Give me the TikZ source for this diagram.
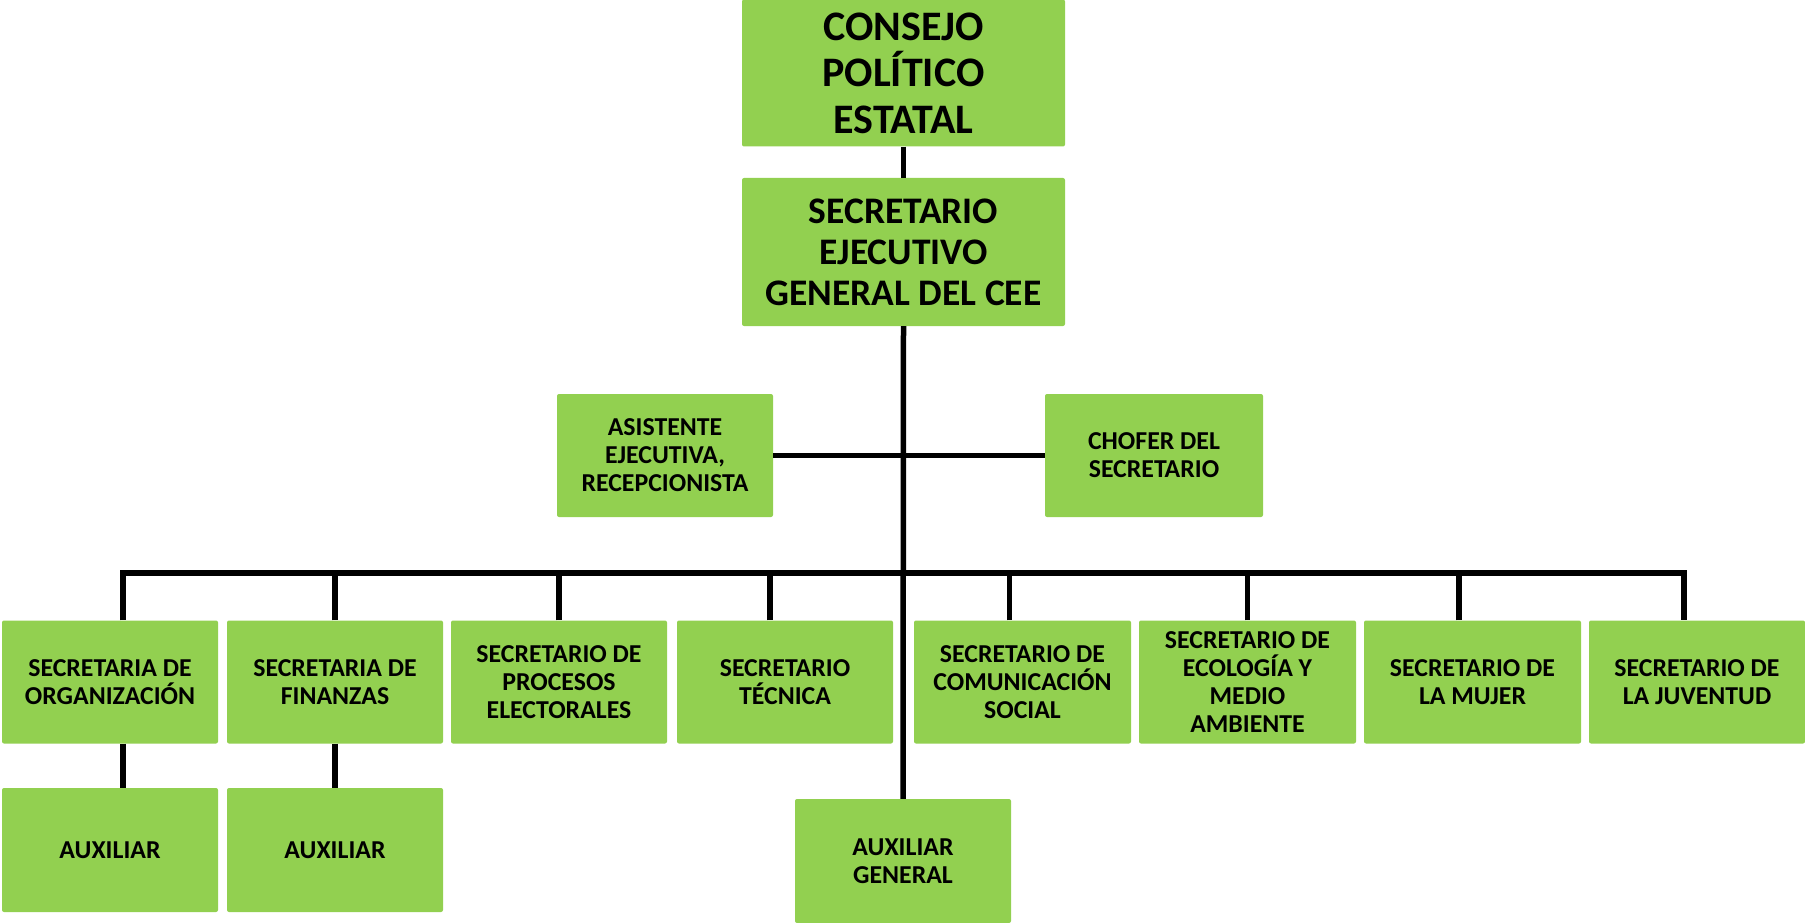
\documentclass[tikz,border=0pt]{standalone}
\usepackage{fontspec}
\setmainfont{Carlito}
\definecolor{boxgreen}{HTML}{92D050}
\begin{document}
\begin{tikzpicture}[x=1pt,y=-1pt,
  box/.style={fill=boxgreen, rounded corners=2pt, minimum width=216pt, minimum height=123pt,
    align=center, inner sep=0pt, text=black, font=\fontsize{25.8}{28}\selectfont\bfseries},
  bigbox/.style={box, minimum width=323pt, minimum height=147pt},
  link/.style={draw=black, line width=5.5pt, line join=miter}]
\useasboundingbox (0,0) rectangle (1805,923);
% top
\node[bigbox, font=\fontsize{42}{46.5}\selectfont\bfseries] (consejo) at (903.5,73) {CONSEJO\\POLÍTICO\\ESTATAL};
\node[bigbox, minimum height=148pt, font=\fontsize{37.5}{41}\selectfont\bfseries] (secre) at (903.5,252) {SECRETARIO\\EJECUTIVO\\GENERAL DEL CEE};
\node[box, minimum width=216pt] (asist) at (665,455.5) {ASISTENTE\\EJECUTIVA,\\RECEPCIONISTA};
\node[box, minimum width=218pt] (chofer) at (1154,455.5) {CHOFER DEL\\SECRETARIO};
% row 1
\node[box] (b1) at (110,682) {SECRETARIA DE\\ORGANIZACIÓN};
\node[box] (b2) at (335,682) {SECRETARIA DE\\FINANZAS};
\node[box] (b3) at (559,682) {SECRETARIO DE\\PROCESOS\\ELECTORALES};
\node[box] (b4) at (785,682) {SECRETARIO\\TÉCNICA};
\node[box, minimum width=217pt] (b5) at (1022.5,682) {SECRETARIO DE\\COMUNICACIÓN\\SOCIAL};
\node[box, minimum width=217pt] (b6) at (1247.5,682) {SECRETARIO DE\\ECOLOGÍA Y\\MEDIO\\AMBIENTE};
\node[box, minimum width=217pt] (b7) at (1472.5,682) {SECRETARIO DE\\LA MUJER};
\node[box] (b8) at (1697,682) {SECRETARIO DE\\LA JUVENTUD};
% row 2
\node[box, minimum height=124pt] (aux1) at (110,850) {AUXILIAR};
\node[box, minimum height=124pt] (aux2) at (335,850) {AUXILIAR};
\node[box, minimum height=124pt] (auxg) at (903,861) {AUXILIAR\\GENERAL};
% connectors
\coordinate (bus) at (903,573);
\draw[link] (consejo.south) -- (secre.north);
\draw[link] (secre.south) -- (auxg.north);
\draw[link] (asist.east) -- (chofer.west);
\draw[link] ([xshift=13pt]b1.north) |- (bus) -| ([xshift=-13pt]b8.north);
\draw[link] (b2.north) -- (b2.north |- bus);
\draw[link] (b3.north) -- (b3.north |- bus);
\draw[link] ([xshift=-15pt]b4.north) -- ([xshift=-15pt]b4.north |- bus);
\draw[link] ([xshift=-13pt]b5.north) -- ([xshift=-13pt]b5.north |- bus);
\draw[link] (b6.north) -- (b6.north |- bus);
\draw[link] ([xshift=-13.5pt]b7.north) -- ([xshift=-13.5pt]b7.north |- bus);
\draw[link] ([xshift=13pt]b1.south) -- ([xshift=13pt]aux1.north);
\draw[link] (b2.south) -- (aux2.north);
\end{tikzpicture}
\end{document}
